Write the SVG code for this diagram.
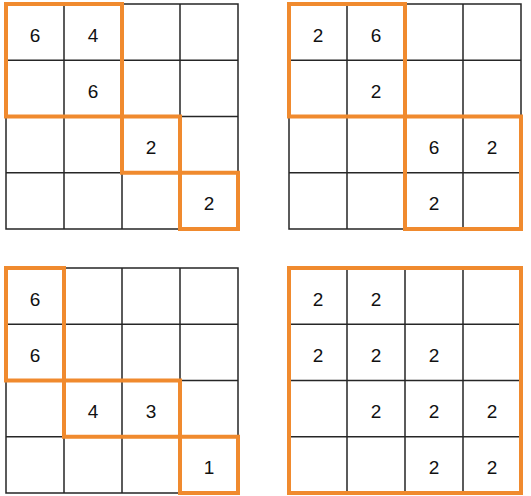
<svg xmlns="http://www.w3.org/2000/svg" width="531" height="496" viewBox="0 0 531 496">
<style>
.grid{fill:none;stroke:#262626;stroke-width:1.5}
.hl{fill:none;stroke:#F08A2E;stroke-width:4;stroke-linejoin:miter}
.n{font-family:"Liberation Sans",Arial,sans-serif;font-size:19px;fill:#111;text-anchor:middle}
</style>
<defs>
<path id="g" class="grid" d="M0,0H232V225H0Z M58,0V225 M116,0V225 M174,0V225 M0,56.25H232 M0,112.5H232 M0,168.75H232"/>
</defs>
<rect width="531" height="496" fill="#fff"/>
<g id="grid1" transform="translate(6,4)">
<use href="#g"/>
<text class="n" x="29" y="37.6">6</text>
<text class="n" x="87" y="37.6">4</text>
<text class="n" x="87" y="93.9">6</text>
<text class="n" x="145" y="150.1">2</text>
<text class="n" x="203" y="206.4">2</text>
<rect class="hl" x="0" y="0" width="116" height="112.5"/>
<rect class="hl" x="116" y="112.5" width="58" height="56.25"/>
<rect class="hl" x="174" y="168.75" width="58" height="56.25"/>
</g>
<g id="grid2" transform="translate(289,4)">
<use href="#g"/>
<text class="n" x="29" y="37.6">2</text>
<text class="n" x="87" y="37.6">6</text>
<text class="n" x="87" y="93.9">2</text>
<text class="n" x="145" y="150.1">6</text>
<text class="n" x="203" y="150.1">2</text>
<text class="n" x="145" y="206.4">2</text>
<rect class="hl" x="0" y="0" width="116" height="112.5"/>
<rect class="hl" x="116" y="112.5" width="116" height="112.5"/>
</g>
<g id="grid3" transform="translate(6,268)">
<use href="#g"/>
<text class="n" x="29" y="37.6">6</text>
<text class="n" x="29" y="93.9">6</text>
<text class="n" x="87" y="150.1">4</text>
<text class="n" x="145" y="150.1">3</text>
<text class="n" x="203" y="206.4">1</text>
<rect class="hl" x="0" y="0" width="58" height="112.5"/>
<rect class="hl" x="58" y="112.5" width="116" height="56.25"/>
<rect class="hl" x="174" y="168.75" width="58" height="56.25"/>
</g>
<g id="grid4" transform="translate(289,268)">
<use href="#g"/>
<text class="n" x="29" y="37.6">2</text>
<text class="n" x="87" y="37.6">2</text>
<text class="n" x="29" y="93.9">2</text>
<text class="n" x="87" y="93.9">2</text>
<text class="n" x="145" y="93.9">2</text>
<text class="n" x="87" y="150.1">2</text>
<text class="n" x="145" y="150.1">2</text>
<text class="n" x="203" y="150.1">2</text>
<text class="n" x="145" y="206.4">2</text>
<text class="n" x="203" y="206.4">2</text>
<rect class="hl" x="0" y="0" width="232" height="225"/>
</g>
</svg>
